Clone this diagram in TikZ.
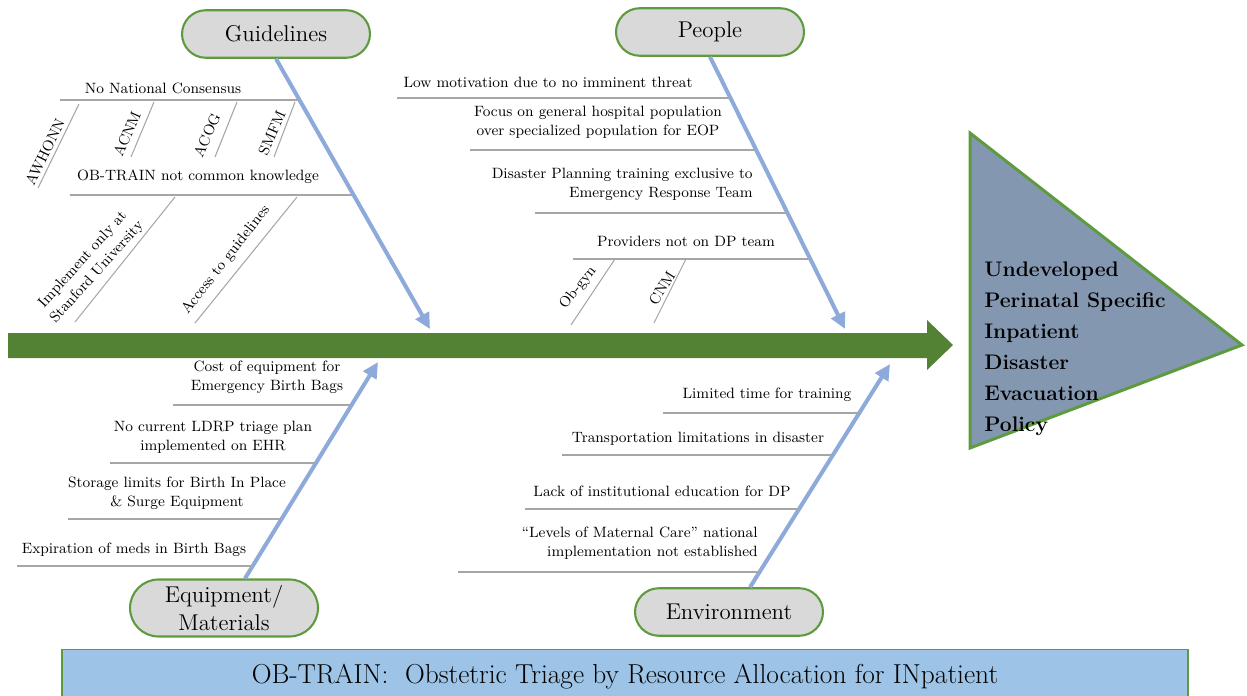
\documentclass[tikz,border=0pt]{standalone}
\usetikzlibrary{arrows.meta,shapes.misc}

\definecolor{spinegreen}{HTML}{548235}
\definecolor{edgegreen}{HTML}{5E9B3F}
\definecolor{causeblue}{HTML}{8EAADB}
\definecolor{ribgray}{HTML}{A6A6A6}
\definecolor{capgray}{HTML}{D9D9D9}
\definecolor{effectblue}{HTML}{8497B0}
\definecolor{bannerblue}{HTML}{9DC3E6}

\begin{document}
\begin{tikzpicture}[x=0.02cm, y=-0.02cm,
  category/.style={rounded rectangle, draw=edgegreen, line width=1.2pt, fill=capgray,
    minimum width=3.76cm, minimum height=0.95cm, inner sep=0pt, align=center,
    font=\fontsize{13}{16}\selectfont},
  cause/.style={causeblue, line width=2.3pt, -{Triangle[length=9pt,width=8.5pt]}},
  rib/.style={ribgray, line width=0.6pt},
  factor/.style={inner sep=0pt, align=center, font=\fontsize{8.5}{10.8}\selectfont}]

\useasboundingbox (0,0) rectangle (1247,696);

% Fishbone: four causes feeding the problem statement

\node[category] (guide) at (276,34) {Guidelines};
\node[category] (people) at (710,32) {People};
\node[category, minimum height=1.14cm] (equip) at (224,608) {Equipment/\\Materials};
\node[category] (env) at (729,612) {Environment};

% spine and head

\fill[spinegreen] (8,333) -- (927,333) -- (927,320) -- (953,345) -- (927,370) -- (927,358) -- (8,358) -- cycle;
\draw[edgegreen, line width=1.7pt, fill=effectblue] (970,133) -- (1242,345) -- (970,448) -- cycle;
\node[anchor=west, align=left, inner sep=0pt, font=\fontsize{12}{17.6}\selectfont\bfseries] (policy) at (984,349)
  {Undeveloped\\Perinatal Specific\\Inpatient\\Disaster\\Evacuation\\Policy};

% cause arrows

\coordinate (gtip) at (430,329);
\coordinate (ptip) at (845,329);
\coordinate (etip) at (378,362);
\coordinate (ntip) at (890,364);

\draw[cause] (guide.south) -- (gtip);
\draw[cause] (people.south) -- (ptip);
\draw[cause] ([xshift=0.42cm]equip.north) -- (etip);
\draw[cause] ([xshift=0.42cm]env.north) -- (ntip);

% Guidelines

\node[factor] (natcon) at (163,88) {No National Consensus};
\node[factor, rotate=64] (awhonn) at (45,152) {AWHONN};
\node[factor, rotate=66] (acnm) at (127,134) {ACNM};
\node[factor, rotate=66] (acog) at (207,135) {ACOG};
\node[factor, rotate=66] (smfm) at (272,133) {SMFM};
\node[factor] (common) at (198,177) {OB-TRAIN not common knowledge};
\node[factor, rotate=48] (stanford) at (90,266) {Implement only at\\Stanford University};
\node[factor, rotate=52] (access) at (226,260) {Access to guidelines};

\draw[rib] (60,100) -- (298,100);
\draw[rib] (79,104) -- (38,188);
\draw[rib] (154,102) -- (131,157);
\draw[rib] (237,102) -- (215,157);
\draw[rib] (295,102) -- (274,157);
\draw[rib] (70,195) -- (352,195);
\draw[rib] (175,197) -- (75,322);
\draw[rib] (297,197) -- (195,323);

% People

\node[factor] (motive) at (548,82) {Low motivation due to no imminent threat};
\node[factor] (focus) at (598,122) {Focus on general hospital population\\over specialized population for EOP};
\node[factor, anchor=east, align=right] (ertteam) at (753,184) {Disaster Planning training exclusive to\\Emergency Response Team};
\node[factor] (providers) at (686,241) {Providers not on DP team};
\node[factor, rotate=52] (obgyn) at (578,288) {Ob-gyn};
\node[factor, rotate=58] (cnm) at (662,288) {CNM};

\draw[rib] (397,98) -- (729,98);
\draw[rib] (470,150) -- (755,150);
\draw[rib] (535,213) -- (787,213);
\draw[rib] (573,259) -- (810,259);
\draw[rib] (615,259) -- (571,325);
\draw[rib] (686,259) -- (654,323);

% Equipment/Materials

\node[factor] (cost) at (267,377) {Cost of equipment for\\Emergency Birth Bags};
\node[factor] (ldrp) at (213,437) {No current LDRP triage plan\\implemented on EHR};
\node[factor] (storage) at (177,493) {Storage limits for Birth In Place\\\& Surge Equipment};
\node[factor] (expiry) at (134,550) {Expiration of meds in Birth Bags};

\draw[rib] (173,405) -- (351,405);
\draw[rib] (110,463) -- (315,463);
\draw[rib] (68,519) -- (281,519);
\draw[rib] (17,566) -- (252,566);

% Environment

\node[factor] (limited) at (767,395) {Limited time for training};
\node[factor] (transport) at (698,439) {Transportation limitations in disaster};
\node[factor] (lack) at (662,491) {Lack of institutional education for DP};
\node[factor, anchor=east, align=right] (levels) at (758,543) {“Levels of Maternal Care” national\\implementation not established};

\draw[rib] (663,413) -- (859,413);
\draw[rib] (562,455) -- (833,455);
\draw[rib] (525,509) -- (799,509);
\draw[rib] (458,572) -- (759,572);

% title bar

\node[draw=edgegreen, line width=0.8pt, fill=bannerblue, minimum width=22.52cm, minimum height=1.1cm,
  font=\fontsize{15.6}{18}\selectfont] (title) at (625,677)
  {OB-TRAIN:\ \ Obstetric Triage by Resource Allocation for INpatient};

\end{tikzpicture}
\end{document}
